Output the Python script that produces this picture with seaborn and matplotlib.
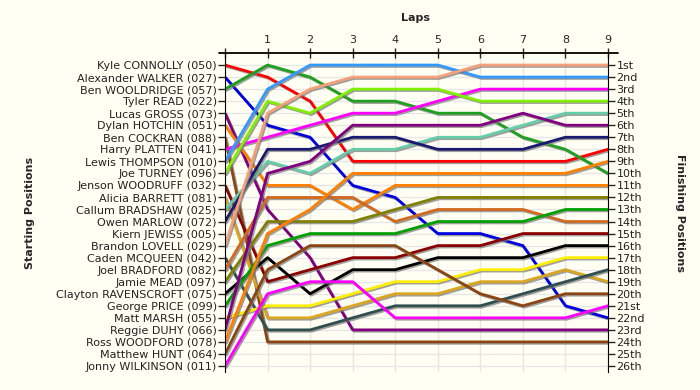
import pandas as pd
import matplotlib
matplotlib.use('Agg')
import matplotlib.pyplot as plt
import matplotlib.patheffects as pe
import seaborn as sns

# starting grid, top to bottom
drivers = ['Kyle CONNOLLY (050)', 'Alexander WALKER (027)', 'Ben WOOLDRIDGE (057)',
           'Tyler READ (022)', 'Lucas GROSS (073)', 'Dylan HOTCHIN (051)',
           'Ben COCKRAN (088)', 'Harry PLATTEN (041)', 'Lewis THOMPSON (010)',
           'Joe TURNEY (096)', 'Jenson WOODRUFF (032)', 'Alicia BARRETT (081)',
           'Callum BRADSHAW (025)', 'Owen MARLOW (072)', 'Kiern JEWISS (005)',
           'Brandon LOVELL (029)', 'Caden MCQUEEN (042)', 'Joel BRADFORD (082)',
           'Jamie MEAD (097)', 'Clayton RAVENSCROFT (075)', 'George PRICE (099)',
           'Matt MARSH (055)', 'Reggie DUHY (066)', 'Ross WOODFORD (078)',
           'Matthew HUNT (064)', 'Jonny WILKINSON (011)']

laps = [0, 1, 2, 3, 4, 5, 6, 7, 8, 9]

# position at the end of each lap (lap 0 = grid)
positions = {
    'Kyle CONNOLLY (050)':       [1, 2, 4, 9, 9, 9, 9, 9, 9, 8],
    'Alexander WALKER (027)':    [2, 6, 7, 11, 12, 15, 15, 16, 21, 22],
    'Ben WOOLDRIDGE (057)':      [3, 1, 2, 4, 4, 5, 5, 7, 8, 10],
    'Lucas GROSS (073)':         [5, 13, 17, 23, 23, 23, 23, 23, 23, 23],
    'Dylan HOTCHIN (051)':       [6, 11, 11, 13, 11, 11, 11, 11, 11, 11],
    'Ben COCKRAN (088)':         [7, 24, 24, 24, 24, 24, 24, 24, 24, 24],
    'Harry PLATTEN (041)':       [8, 7, 6, 5, 5, 4, 3, 3, 3, 3],
    'Lewis THOMPSON (010)':      [9, 3, 1, 1, 1, 1, 2, 2, 2, 2],
    'Joe TURNEY (096)':          [10, 4, 5, 3, 3, 3, 4, 4, 4, 4],
    'Jenson WOODRUFF (032)':     [11, 19, 18, 17, 17, 16, 16, 15, 15, 15],
    'Alicia BARRETT (081)':      [12, 22, 22, 21, 20, 20, 19, 19, 18, 19],
    'Callum BRADSHAW (025)':     [13, 9, 10, 8, 8, 7, 7, 6, 5, 5],
    'Owen MARLOW (072)':         [14, 8, 8, 7, 7, 8, 8, 8, 7, 7],
    'Brandon LOVELL (029)':      [16, 5, 3, 2, 2, 2, 1, 1, 1, 1],
    'Caden MCQUEEN (042)':       [17, 23, 23, 22, 21, 21, 21, 20, 19, 18],
    'Joel BRADFORD (082)':       [18, 12, 12, 12, 14, 13, 13, 13, 14, 14],
    'Jamie MEAD (097)':          [19, 14, 14, 14, 13, 12, 12, 12, 12, 12],
    'Clayton RAVENSCROFT (075)': [20, 17, 20, 18, 18, 17, 17, 17, 16, 16],
    'George PRICE (099)':        [21, 16, 15, 15, 15, 14, 14, 14, 13, 13],
    'Matt MARSH (055)':          [22, 21, 21, 20, 19, 19, 18, 18, 17, 17],
    'Reggie DUHY (066)':         [23, 10, 9, 6, 6, 6, 6, 5, 6, 6],
    'Ross WOODFORD (078)':       [24, 15, 13, 10, 10, 10, 10, 10, 10, 9],
    'Matthew HUNT (064)':        [25, 18, 16, 16, 16, 18, 20, 21, 20, 20],
    'Jonny WILKINSON (011)':     [26, 20, 19, 19, 22, 22, 22, 22, 22, 21],
}

colours = {
    'Kyle CONNOLLY (050)': '#ff0000',
    'Alexander WALKER (027)': '#0000e0',
    'Ben WOOLDRIDGE (057)': '#1f9f1f',
    'Lucas GROSS (073)': '#800080',
    'Dylan HOTCHIN (051)': '#ff8000',
    'Ben COCKRAN (088)': '#8b4513',
    'Harry PLATTEN (041)': '#ff00ff',
    'Lewis THOMPSON (010)': '#3399ff',
    'Joe TURNEY (096)': '#80f000',
    'Jenson WOODRUFF (032)': '#8b0000',
    'Alicia BARRETT (081)': '#daa520',
    'Callum BRADSHAW (025)': '#66cdaa',
    'Owen MARLOW (072)': '#191970',
    'Brandon LOVELL (029)': '#f4a07a',
    'Caden MCQUEEN (042)': '#2f4f4f',
    'Joel BRADFORD (082)': '#d2691e',
    'Jamie MEAD (097)': '#808000',
    'Clayton RAVENSCROFT (075)': '#000000',
    'George PRICE (099)': '#00a000',
    'Matt MARSH (055)': '#ffee00',
    'Reggie DUHY (066)': '#800080',
    'Ross WOODFORD (078)': '#ff8000',
    'Matthew HUNT (064)': '#8b4513',
    'Jonny WILKINSON (011)': '#ff00ff',
}

finish_labels = ['1st', '2nd', '3rd', '4th', '5th', '6th', '7th', '8th', '9th', '10th',
                 '11th', '12th', '13th', '14th', '15th', '16th', '17th', '18th', '19th',
                 '20th', '21st', '22nd', '23rd', '24th', '25th', '26th']

rows = []
for d in drivers:
    if d in positions:
        for lap, p in zip(laps, positions[d]):
            rows.append((d, lap, p))
df = pd.DataFrame(rows, columns=['Driver', 'Lap', 'Position'])

sns.set_style('white')
plt.rcParams['font.family'] = ['DejaVu Sans']
bg = '#fffff4'

fig = plt.figure(figsize=(7, 3.9), dpi=100, facecolor=bg)
ax = fig.add_axes([225/700, 18/390, 383/700, 319/390])
ax.set_facecolor(bg)

sns.lineplot(data=df, x='Lap', y='Position', hue='Driver', palette=colours,
             estimator=None, sort=False, legend=False, linewidth=2, ax=ax)
for line in ax.lines:
    line.set_path_effects([pe.SimpleLineShadow(offset=(1, -1), shadow_color='#777777', alpha=0.7),
                           pe.Normal()])

ax.set_xlim(0, 9)
ax.set_ylim(26.5, 0)

ax.set_yticks(range(1, 27))
ax.set_yticklabels(drivers, fontsize=8, color='#222222')
ax.xaxis.tick_top()
ax.set_xticks(laps)
ax.set_xticklabels([''] + [str(l) for l in laps[1:]], fontsize=8)
ax.tick_params(axis='x', direction='inout', length=7, width=1, pad=2)
ax.tick_params(axis='y', direction='out', length=5, width=1, pad=1)
ax.set_xlabel('')
ax.set_ylabel('')

ax.grid(True, color='#e6e6e6', linewidth=1)
ax.set_axisbelow(True)
for side in ['bottom', 'top', 'right']:
    ax.spines[side].set_visible(False)
ax.spines['left'].set_color('black')
ax.plot([-0.15, 9.23], [0, 0], color='black', linewidth=1.3, clip_on=False)

ax2 = ax.twinx()
ax2.set_ylim(ax.get_ylim())
ax2.set_yticks(range(1, 27))
ax2.set_yticklabels(finish_labels, fontsize=8, color='#222222')
ax2.tick_params(axis='y', direction='out', length=5, width=1, pad=1)
for side in ['bottom', 'top', 'left']:
    ax2.spines[side].set_visible(False)
ax2.spines['right'].set_color('black')

fig.text(416/700, 1 - 18/390, 'Laps', ha='center', va='center', fontsize=8, fontweight='bold')
fig.text(30/700, 0.455, 'Starting Positions', ha='center', va='center', rotation=90,
         fontsize=8, fontweight='bold')
fig.text(680/700, 0.455, 'Finishing Positions', ha='center', va='center', rotation=270,
         fontsize=8, fontweight='bold')

fig.savefig('out.png', dpi=100, facecolor=bg)
